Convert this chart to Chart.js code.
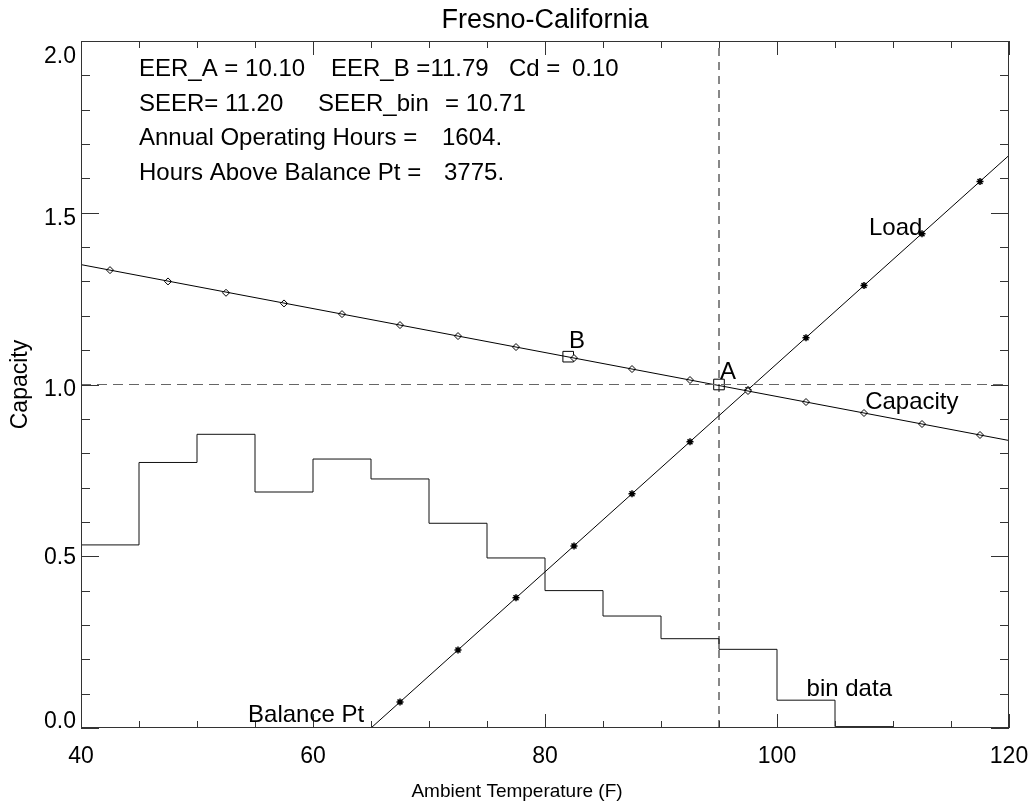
<!DOCTYPE html>
<html>
<head>
<meta charset="utf-8">
<script src="https://cdn.jsdelivr.net/npm/chart.js@4.4.0/dist/chart.umd.min.js"></script>
<style>
html,body{margin:0;padding:0;background:#fff;}
canvas{display:block;}
</style>
</head>
<body>
<canvas id="c" width="1034" height="805"></canvas>
<script>
// ---- data ----
const binEdges = [40,45,50,55,60,65,70,75,80,85,90,95,100,105,110,120];
const binValues = [0.533,0.773,0.855,0.687,0.783,0.725,0.596,0.495,0.400,0.326,0.260,0.229,0.081,0.004,0.0];
const capacityLineX = [40,120];
const capacityLineY = [1.349,0.837];
const markerTemps = [42.5,47.5,52.5,57.5,62.5,67.5,72.5,77.5,82.5,87.5,92.5,97.5,102.5,107.5,112.5,117.5];
const capacityMarkers = [1.333,1.300,1.267,1.236,1.205,1.173,1.141,1.109,1.077,1.045,1.013,0.981,0.949,0.917,0.885,0.853];
const loadLineX = [65,120];
const loadLineY = [0,1.667];
const loadMarkerTemps = [67.5,72.5,77.5,82.5,87.5,92.5,97.5,102.5,107.5,112.5,117.5];
const loadMarkers = [0.076,0.227,0.379,0.530,0.682,0.833,0.985,1.136,1.288,1.439,1.591];
const pointA = [95,1.0];
const pointB = [82,1.081];
const refTemp = 95;
const refCapacity = 1.0;
const xTickLabels = ['40','60','80','100','120'];
const xTickValues = [40,60,80,100,120];
const yTickLabels = ['0.0','0.5','1.0','1.5','2.0'];
const yTickValues = [0,0.5,1.0,1.5,2.0];
const titleText = 'Fresno-California';
const xTitle = 'Ambient Temperature (F)';
const yTitle = 'Capacity';
const infoLines = [
  [['EER_A = 10.10',139],['EER_B =11.79',331],['Cd =',509],['0.10',572]],
  [['SEER= 11.20',139],['SEER_bin',318],['= 10.71',445]],
  [['Annual Operating Hours =',139],['1604.',442]],
  [['Hours Above Balance Pt =',139],['3775.',444]]
];
const curveLabels = [
  {t:'B', x:82.07, y:1.106},
  {t:'A', x:95.09, y:1.016},
  {t:'Load', x:107.93, y:1.435},
  {t:'Capacity', x:107.6, y:0.930},
  {t:'bin data', x:102.55, y:0.093},
  {t:'Balance Pt', x:54.4, y:0.017}
];

// ---- build datasets ----
const histPts = binValues.map((v,i)=>({x:binEdges[i],y:v}));
histPts.push({x:binEdges[binEdges.length-1],y:0});
const zip = (xs,ys)=>xs.map((x,i)=>({x:x,y:ys[i]}));

const FONT = '"Liberation Sans", Arial, sans-serif';

const decor = {
  id:'decor',
  afterDraw(chart){
    const ctx = chart.ctx, a = chart.chartArea;
    const xs = chart.scales.x, ys = chart.scales.y;
    ctx.save();
    // frame
    ctx.strokeStyle = '#333'; ctx.lineWidth = 1;
    ctx.strokeRect(a.left+0.5, a.top+0.5, a.right-a.left-1, a.bottom-a.top-1);
    // x ticks (bottom & top), inward
    for (let v=40; v<=120; v+=5){
      const px = Math.round(xs.getPixelForValue(v))+0.5;
      const len = (v%20===0)?14:7;
      ctx.beginPath();
      ctx.moveTo(px,a.bottom); ctx.lineTo(px,a.bottom-len);
      ctx.moveTo(px,a.top); ctx.lineTo(px,a.top+len);
      ctx.stroke();
    }
    for (let i=0;i<=20;i++){
      const v=i/10;
      const py = Math.round(ys.getPixelForValue(v))+0.5;
      const len = (i%5===0)?18:9;
      ctx.beginPath();
      ctx.moveTo(a.left,py); ctx.lineTo(a.left+len,py);
      ctx.moveTo(a.right,py); ctx.lineTo(a.right-len,py);
      ctx.stroke();
    }
    ctx.fillStyle = '#000';
    // tick labels
    ctx.font = '23px '+FONT;
    ctx.textAlign='center'; ctx.textBaseline='alphabetic';
    xTickValues.forEach((v,i)=>{
      ctx.fillText(xTickLabels[i], xs.getPixelForValue(v), 763);
    });
    ctx.textAlign='right';
    const yOff = [0, 8, 11, 12, 22];
    yTickValues.forEach((v,i)=>{
      ctx.fillText(yTickLabels[i], 76, ys.getPixelForValue(v)+yOff[i]);
    });
    // axis titles
    ctx.textAlign='center';
    ctx.font = '19px '+FONT;
    ctx.fillText(xTitle, 517, 797);
    ctx.save();
    ctx.translate(27, (a.top+a.bottom)/2);
    ctx.rotate(-Math.PI/2);
    ctx.font = '23px '+FONT;
    ctx.fillText(yTitle, 0, 0);
    ctx.restore();
    // title
    ctx.font = '27px '+FONT;
    ctx.fillText(titleText, (a.left+a.right)/2, 28);
    // info block
    ctx.textAlign='left';
    ctx.font = '24px '+FONT;
    const baselines = [76,111,145,180];
    infoLines.forEach((line,li)=>{
      line.forEach(seg=>ctx.fillText(seg[0], seg[1], baselines[li]));
    });
    // curve labels
    ctx.font = '24px '+FONT;
    curveLabels.forEach(l=>{
      ctx.fillText(l.t, xs.getPixelForValue(l.x), ys.getPixelForValue(l.y));
    });
    ctx.restore();
  }
};

new Chart(document.getElementById('c'), {
  type:'scatter',
  data:{
    datasets:[
      {label:'bin data', data:histPts, showLine:true, stepped:true, borderColor:'#111', borderWidth:1, pointRadius:0},
      {label:'ref h', data:[{x:40,y:refCapacity},{x:120,y:refCapacity}], showLine:true, borderColor:'#666', borderWidth:1, borderDash:[10,6], pointRadius:0},
      {label:'ref v', data:[{x:refTemp,y:0},{x:refTemp,y:2}], showLine:true, borderColor:'#111', borderWidth:1, borderDash:[8,6], pointRadius:0},
      {label:'capacity', data:zip(capacityLineX,capacityLineY), showLine:true, borderColor:'#000', borderWidth:1, pointRadius:0},
      {label:'capacity pts', data:zip(markerTemps,capacityMarkers), showLine:false, pointStyle:'rectRot', pointRadius:3.5, pointBackgroundColor:'#fff', pointBorderColor:'#000', pointBorderWidth:1},
      {label:'load', data:zip(loadLineX,loadLineY), showLine:true, borderColor:'#000', borderWidth:1, pointRadius:0},
      {label:'load pts', data:zip(loadMarkerTemps,loadMarkers), showLine:false, pointStyle:'star', pointRadius:3.5, pointBorderColor:'#000', pointBorderWidth:1.5},
      {label:'AB', data:[{x:pointA[0],y:pointA[1]},{x:pointB[0],y:pointB[1]}], showLine:false, pointStyle:'rect', pointRadius:7.5, pointBackgroundColor:'rgba(0,0,0,0)', pointBorderColor:'#000', pointBorderWidth:1}
    ]
  },
  options:{
    responsive:false, animation:false,
    layout:{padding:{left:0,top:41,right:25,bottom:0}},
    plugins:{legend:{display:false}, tooltip:{enabled:false}, title:{display:false}},
    scales:{
      x:{type:'linear', min:40, max:120, ticks:{display:false}, grid:{display:false}, border:{display:false},
         afterFit(s){ s.height = 77; }},
      y:{type:'linear', min:0, max:2, ticks:{display:false}, grid:{display:false}, border:{display:false},
         afterFit(s){ s.width = 81; }}
    }
  },
  plugins:[decor]
});
</script>
</body>
</html>
